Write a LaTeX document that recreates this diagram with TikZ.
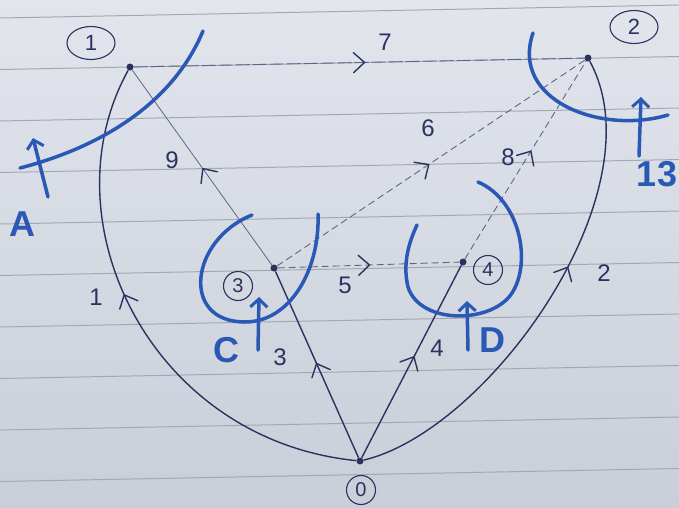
\documentclass[tikz,border=0pt]{standalone}
\usepackage{fontspec}
\setmainfont{Liberation Sans}
\usetikzlibrary{arrows.meta,decorations.markings,shapes.geometric}
\definecolor{ink}{HTML}{2B3260}
\definecolor{cutc}{HTML}{2A58B5}
\definecolor{paperT}{HTML}{E2E5EC}
\definecolor{paperB}{HTML}{C9CED9}
\definecolor{rulec}{HTML}{A3A9B4}
\tikzset{
  dotnode/.style={circle,fill=ink,inner sep=0pt,minimum size=7pt},
  edge/.style={draw=ink,line width=1.4pt},
  dedge/.style={draw=ink!75,line width=0.9pt,dash pattern=on 7pt off 4pt},
  ledge/.style={draw=ink!75,line width=0.9pt,dash pattern=on 14pt off 3pt},
  tedge/.style={draw=ink!75,line width=0.8pt},
  mid/.style={postaction={decorate,decoration={markings,
      mark=at position #1 with {\draw[ink,solid,line width=1.4pt,line cap=round,line join=round]
        (-10pt,-10pt) -- (1pt,0pt) -- (-10pt,10pt);}}}},
  lab/.style={text=ink,font=\fontsize{24}{26}\selectfont,inner sep=1pt},
  circlab/.style={draw=ink,line width=1.1pt,text=ink,circle,inner sep=0pt,minimum size=29pt,font=\fontsize{20}{22}\selectfont},
  elllab/.style={draw=ink,line width=1.1pt,text=ink,ellipse,inner sep=0pt,minimum width=48pt,minimum height=33pt,font=\fontsize{22}{24}\selectfont},
  cutline/.style={draw=cutc,line width=3.5pt,line cap=round},
  cutarrow/.style={draw=cutc,line width=3.5pt,line cap=round,-{Straight Barb[length=8pt,width=17pt,line width=3pt]}},
  cutlab/.style={text=cutc,font=\fontsize{36}{38}\selectfont\bfseries,inner sep=0pt}
}
\begin{document}
\begin{tikzpicture}[x=1pt,y=-1pt]
\useasboundingbox (0,0) rectangle (679,507);
\shade[top color=paperT,bottom color=paperB] (0,0) rectangle (679,507);
\foreach \k in {0,...,9}{
  \draw[rulec,line width=1pt] (0,{18+51.5*\k}) -- (679,{18+51.5*\k-13});
}
% nodes
\node[dotnode] (n1) at (130,67) {};
\node[dotnode] (n2) at (588,58) {};
\node[dotnode] (n3) at (274,268) {};
\node[dotnode] (n4) at (463,262) {};
\node[dotnode] (n0) at (360,461) {};
\node[elllab] (c1) at (91,43) {1};
\node[elllab] (c2) at (634,27) {2};
\node[circlab] (c3) at (238,286) {3};
\node[circlab] (c4) at (488,270) {4};
\node[circlab] (c0) at (361,490) {0};
% solid edges
\draw[edge,mid=0.56] (n0) .. controls (150,440) and (45,220) .. (n1);
\draw[edge,mid=0.57] (n0) .. controls (490,430) and (660,190) .. (n2);
\draw[edge,mid=0.5] (n0) -- (n3);
\draw[edge,mid=0.52] (n0) -- (n4);
% dashed edges
\draw[dedge,mid=0.5] (n3) -- (n4);
\draw[dedge,mid=0.49] (n3) -- (n2);
\draw[ledge,mid=0.51] (n1) -- (n2);
\draw[dedge,mid=0.54] (n4) -- (n2);
\draw[tedge,mid=0.49] (n3) -- (n1);
% edge labels
\node[lab] (l1) at (96,297) {1};
\node[lab] (l2) at (604,273) {2};
\node[lab] (l3) at (280,357) {3};
\node[lab] (l4) at (437,348) {4};
\node[lab] (l5) at (345,285) {5};
\node[lab] (l6) at (428,128) {6};
\node[lab] (l7) at (385,42) {7};
\node[lab] (l8) at (508,157) {8};
\node[lab] (l9) at (172,160) {9};
% cuts
\draw[cutline] (203,31) .. controls (170,110) and (90,150) .. (20,168);
\draw[cutline] (533,33) .. controls (510,100) and (600,135) .. (668,115);
\draw[cutline] (252,215) .. controls (190,240) and (180,322) .. (245,322)
                         .. controls (290,322) and (320,270) .. (318,214);
\draw[cutline] (478,182) .. controls (520,200) and (532,262) .. (512,293)
                         .. controls (492,324) and (420,325) .. (408,287)
                         .. controls (402,262) and (410,240) .. (417,225);
\coordinate (aA0) at (48,197); \coordinate (aA1) at (33,138);
\coordinate (aB0) at (639,156); \coordinate (aB1) at (641,97);
\coordinate (aC0) at (258,350); \coordinate (aC1) at (259,297);
\coordinate (aD0) at (468,350); \coordinate (aD1) at (467,301);
\draw[cutarrow] (aA0) -- (aA1);
\draw[cutarrow] (aB0) -- (aB1);
\draw[cutarrow] (aC0) -- (aC1);
\draw[cutarrow] (aD0) -- (aD1);
\node[cutlab] (tA) at (22,224) {A};
\node[cutlab] (tB) at (657,174) {13};
\node[cutlab] (tC) at (226,350) {C};
\node[cutlab] (tD) at (492,340) {D};
\end{tikzpicture}
\end{document}
